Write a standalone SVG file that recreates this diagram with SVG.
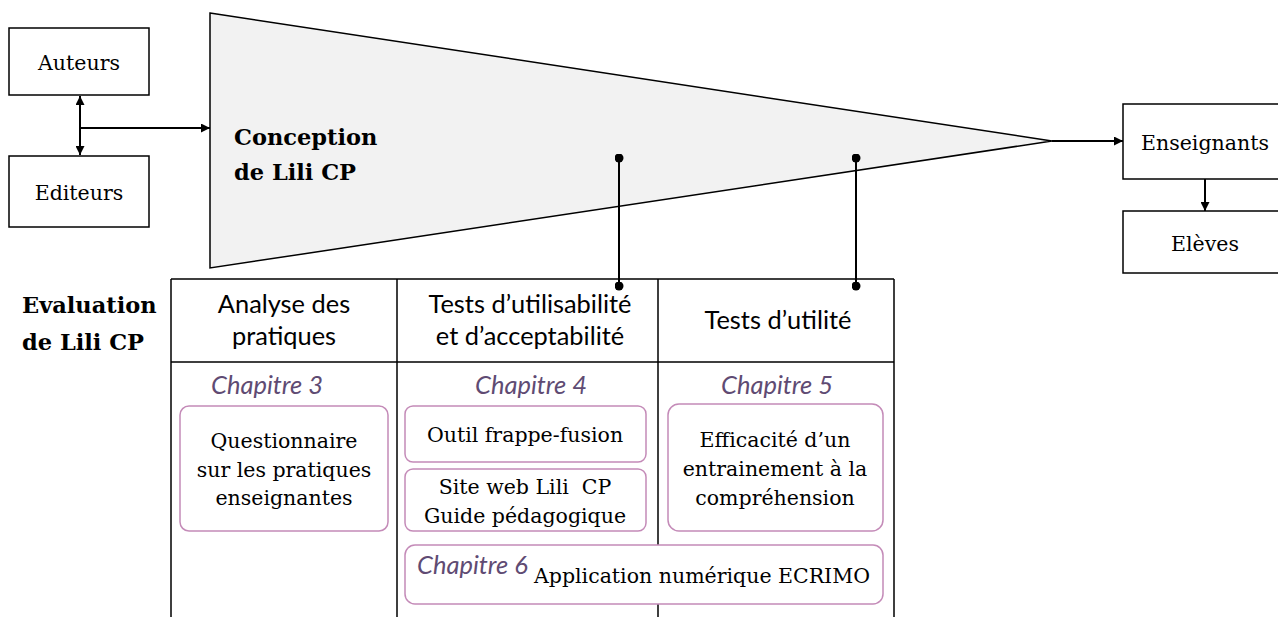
<svg xmlns="http://www.w3.org/2000/svg" width="1278" height="617" viewBox="0 0 1278 617">
<defs>
<marker id="ah" viewBox="0 0 10 10" refX="10" refY="5" markerWidth="9" markerHeight="9" markerUnits="userSpaceOnUse" orient="auto-start-reverse"><path d="M0,0 L10,5 L0,10 z" fill="#000"/></marker>
<marker id="dot" viewBox="0 0 10 10" refX="5" refY="5" markerWidth="9" markerHeight="9" markerUnits="userSpaceOnUse"><circle cx="5" cy="5" r="5" fill="#000"/></marker>
</defs>
<style>
.box{fill:#fff;stroke:#000;stroke-width:1.5}
.rbox{fill:#fff;stroke:#c48bb8;stroke-width:1.5}
.ser{font-family:"DejaVu Serif","Liberation Serif",serif;font-size:20.5px;fill:#000;text-anchor:middle}
.big{font-family:"DejaVu Serif","Liberation Serif",serif;font-size:22.5px;font-weight:bold;fill:#000}
.hdr{font-family:Lato,"Noto Sans",sans-serif;font-size:25.4px;fill:#000;text-anchor:middle}
.ch{font-family:Lato,"Noto Sans",sans-serif;font-size:25.5px;font-style:italic;fill:#5f4b73;text-anchor:middle}
.ln{stroke:#000;stroke-width:2;fill:none}
.tl{stroke:#000;stroke-width:1.5;fill:none}
</style>
<g id="funnel">
<polygon points="210,13 1052,141 210,268" fill="#f2f2f2" stroke="#000" stroke-width="1.5"/>
<text class="big" x="234" y="145">Conception</text>
<text class="big" x="234" y="180">de Lili CP</text>
</g>
<g id="auteurs"><rect class="box" x="9" y="28" width="140" height="67"/><text class="ser" x="79" y="70">Auteurs</text></g>
<g id="editeurs"><rect class="box" x="9" y="156" width="140" height="71"/><text class="ser" x="79" y="200">Editeurs</text></g>
<g id="enseignants"><rect class="box" x="1123" y="104" width="160" height="75"/><text class="ser" x="1205" y="150">Enseignants</text></g>
<g id="eleves"><rect class="box" x="1123" y="211" width="160" height="62"/><text class="ser" x="1205" y="251">Elèves</text></g>
<g id="table">
<path class="tl" d="M171,279 H894 M171,362 H894 M171,279 V617 M397,279 V617 M658,279 V617 M894,279 V617"/>
<text class="big" x="22" y="313">Evaluation</text>
<text class="big" x="22" y="350">de Lili CP</text>
<text class="hdr" x="284" y="313">Analyse des</text>
<text class="hdr" x="284" y="345">pratiques</text>
<text class="hdr" x="530" y="313">Tests d’utilisabilité</text>
<text class="hdr" x="530" y="345">et d’acceptabilité</text>
<text class="hdr" x="778" y="329">Tests d’utilité</text>
<text class="ch" x="267" y="394">Chapitre 3</text>
<text class="ch" x="531" y="394">Chapitre 4</text>
<text class="ch" x="777" y="394">Chapitre 5</text>
</g>
<g id="questionnaire"><rect class="rbox" x="180" y="406" width="208" height="125" rx="9"/>
<text class="ser" x="284" y="448">Questionnaire</text><text class="ser" x="284" y="477">sur les pratiques</text><text class="ser" x="284" y="505">enseignantes</text></g>
<g id="outil"><rect class="rbox" x="405" y="406" width="241" height="56" rx="8"/><text class="ser" x="525" y="442">Outil frappe-fusion</text></g>
<g id="site"><rect class="rbox" x="405" y="469" width="241" height="62" rx="8"/><text class="ser" x="525" y="494">Site web Lili&#160; CP</text><text class="ser" x="525" y="523">Guide pédagogique</text></g>
<g id="efficacite"><rect class="rbox" x="668" y="404" width="215" height="127" rx="11"/>
<text class="ser" x="775" y="447">Efficacité d’un</text><text class="ser" x="775" y="476">entrainement à la</text><text class="ser" x="775" y="505">compréhension</text></g>
<g id="ecrimo"><rect class="rbox" x="405" y="545" width="478" height="59" rx="10"/>
<text class="ch" x="417" y="574" style="text-anchor:start">Chapitre 6</text>
<text class="ser" x="534" y="583" style="text-anchor:start">Application numérique ECRIMO</text></g>
<g id="connectors">
<path class="ln" d="M80,96 V155" marker-start="url(#ah)" marker-end="url(#ah)"/>
<path class="ln" d="M80,128 H210" marker-end="url(#ah)"/>
<path class="ln" d="M1052,141 H1123" marker-end="url(#ah)"/>
<path class="ln" d="M1205,179 V211" marker-end="url(#ah)"/>
<path class="ln" d="M619,158 V286" marker-start="url(#dot)" marker-end="url(#dot)"/>
<path class="ln" d="M856,158 V286" marker-start="url(#dot)" marker-end="url(#dot)"/>
</g>
</svg>
